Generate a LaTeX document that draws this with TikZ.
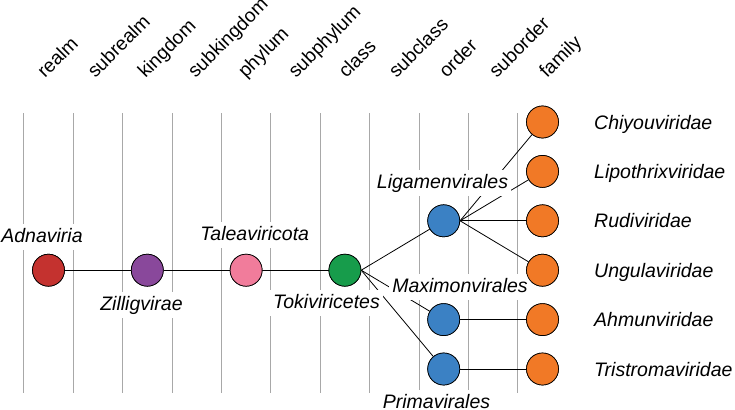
\documentclass[tikz,border=0pt]{standalone}
\usepackage{fontspec}
\setmainfont{Liberation Sans}
\definecolor{cred}{HTML}{C4322F}
\definecolor{cpurple}{HTML}{89489B}
\definecolor{cpink}{HTML}{F17C9B}
\definecolor{cgreen}{HTML}{179C4B}
\definecolor{cblue}{HTML}{3B81C4}
\definecolor{corange}{HTML}{F17926}
\definecolor{gridgray}{HTML}{A8A8A8}
\begin{document}
\begin{tikzpicture}[x=1pt,y=-1pt,
  taxon/.style={circle,draw=black,line width=0.7pt,minimum size=32pt,inner sep=0pt},
  conn/.style={draw=black,line width=0.8pt},
  gridline/.style={draw=gridgray,line width=0.9pt},
  tlabel/.style={font=\fontsize{19.5}{21}\selectfont\itshape,fill=white,inner xsep=3pt,inner ysep=4pt,text height=14pt,text depth=4pt,anchor=base},
  flabel/.style={font=\fontsize{19.5}{21}\selectfont\itshape,anchor=base west,inner sep=0pt},
  rlabel/.style={font=\fontsize{19.2}{21}\selectfont,anchor=base west,inner sep=0pt,rotate=45}]
\useasboundingbox (0,0) rectangle (735,409);
% grid lines
\foreach \i in {0,...,10} {
  \coordinate (gt\i) at ({23.8+49.4*\i},113);
  \coordinate (gb\i) at ({23.8+49.4*\i},393);
  \draw[gridline] (gt\i) -- (gb\i);
}
% rank labels
\foreach \r [count=\i from 0] in {realm,subrealm,kingdom,subkingdom,phylum,subphylum,class,subclass,order,suborder,family} {
  \node[rlabel] (rank\i) at ({45+50.2*\i},79) {\r};
}
% nodes
\node[taxon,fill=cred] (adn) at (48.5,270.2) {};
\node[taxon,fill=cpurple] (zil) at (147.3,270.2) {};
\node[taxon,fill=cpink] (tal) at (246.1,270.2) {};
\node[taxon,fill=cgreen] (tok) at (344.9,270.2) {};
\node[taxon,fill=cblue] (lig) at (443.7,220.8) {};
\node[taxon,fill=cblue] (max) at (443.7,319.6) {};
\node[taxon,fill=cblue] (pri) at (443.7,369) {};
\node[taxon,fill=corange] (chi) at (542.5,122) {};
\node[taxon,fill=corange] (lip) at (542.5,171.4) {};
\node[taxon,fill=corange] (rud) at (542.5,220.8) {};
\node[taxon,fill=corange] (ung) at (542.5,270.2) {};
\node[taxon,fill=corange] (ahm) at (542.5,319.6) {};
\node[taxon,fill=corange] (tri) at (542.5,369) {};
% connectors
\draw[conn] (adn.east) -- (zil);
\draw[conn] (zil.east) -- (tal);
\draw[conn] (tal.east) -- (tok);
\draw[conn] (tok.east) -- (lig);
\draw[conn] (tok.east) -- (max);
\draw[conn] (tok.east) -- (pri);
\draw[conn] (lig.east) -- (chi);
\draw[conn] (lig.east) -- (lip);
\draw[conn] (lig.east) -- (rud);
\draw[conn] (lig.east) -- (ung);
\draw[conn] (max.east) -- (ahm);
\draw[conn] (pri.east) -- (tri);
% taxon labels
\node[tlabel] (ladn) at (42,242) {Adnaviria};
\node[tlabel] (lzil) at (141.5,310) {Zilligvirae};
\node[tlabel] (ltal) at (254.7,240) {Taleaviricota};
\node[tlabel] (ltok) at (326.5,308) {Tokiviricetes};
\node[tlabel] (llig) at (442.5,188) {Ligamenvirales};
\node[tlabel] (lmax) at (460,292) {Maximonvirales};
\node[tlabel] (lpri) at (436.5,408) {Primavirales};
% redraw circles above labels
\foreach \n/\c in {adn/cred,zil/cpurple,tal/cpink,tok/cgreen,lig/cblue,max/cblue,pri/cblue,chi/corange,lip/corange,rud/corange,ung/corange,ahm/corange,tri/corange} {
  \fill[\c,draw=black,line width=0.7pt] (\n.center) circle (16pt);
}
% family labels
\node[flabel] (fchi) at (594,129) {Chiyouviridae};
\node[flabel] (flip) at (594,178.4) {Lipothrixviridae};
\node[flabel] (frud) at (594,227.8) {Rudiviridae};
\node[flabel] (fung) at (594,277.2) {Ungulaviridae};
\node[flabel] (fahm) at (594,326.6) {Ahmunviridae};
\node[flabel] (ftri) at (594,376) {Tristromaviridae};
\end{tikzpicture}
\end{document}
